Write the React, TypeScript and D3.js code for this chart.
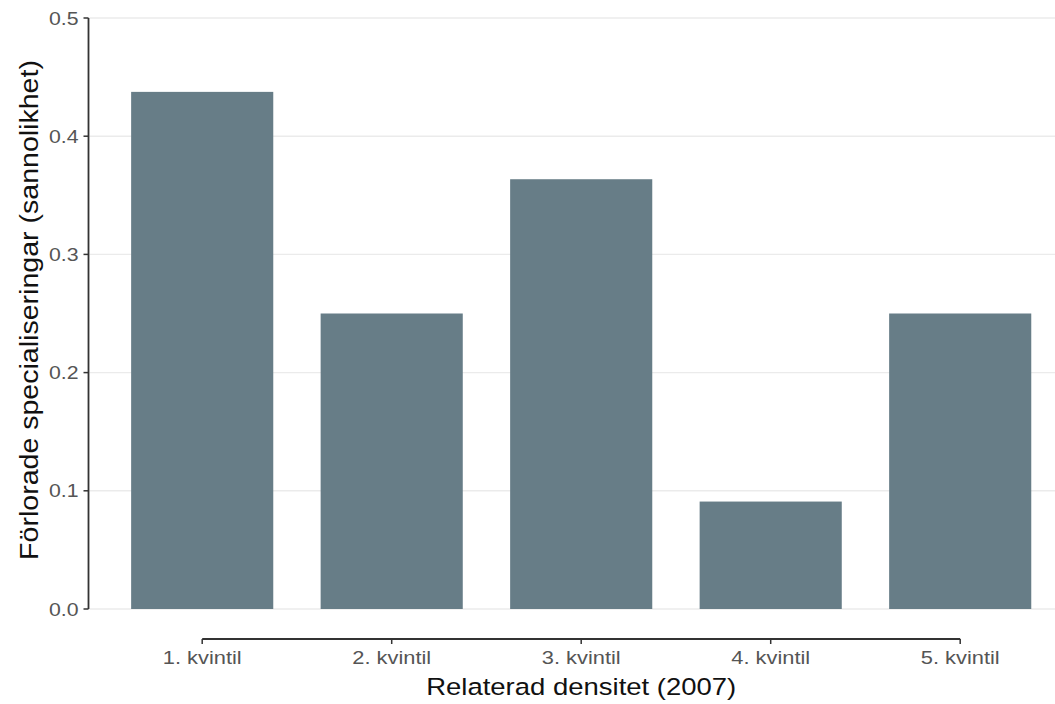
import React from "react";
import * as d3 from "d3";

const categories = ["1. kvintil", "2. kvintil", "3. kvintil", "4. kvintil", "5. kvintil"];
const values = [0.4375, 0.25, 0.3636, 0.0909, 0.25];
const yTicks = [0, 0.1, 0.2, 0.3, 0.4, 0.5];

const W = 1055;
const H = 704;
const step = 189.5;
const left = 88.5;
const top = 18;
const bottom = 609;
const SX = 1.15;
const FONT = "'Liberation Sans', Arial, Helvetica, sans-serif";

export default function App() {
  const x = d3
    .scaleBand<string>()
    .domain(categories)
    .range([left + 0.1 * step, left + 5.1 * step])
    .paddingInner(0.25)
    .paddingOuter(0.125);
  const y = d3.scaleLinear().domain([0, 0.5]).range([bottom, top]);
  const cx = (c: string) => (x(c) as number) + x.bandwidth() / 2;
  const axisY = 639;

  return (
    <svg
      width={W}
      height={H}
      style={{ position: "absolute", left: 0, top: 0, background: "#fff" }}
      fontFamily={FONT}
    >
      <rect width={W} height={H} fill="#fff" />
      {yTicks.map((t) => (
        <line key={t} x1={left + 1} x2={W} y1={y(t)} y2={y(t)} stroke="#ebebeb" strokeWidth={1.4} />
      ))}
      {categories.map((c, i) => (
        <rect
          key={c}
          x={x(c)}
          width={x.bandwidth()}
          y={y(values[i])}
          height={y(0) - y(values[i])}
          fill="#677d87"
        />
      ))}
      {/* y axis */}
      <line x1={left} x2={left} y1={y(0.5)} y2={y(0)} stroke="#333" strokeWidth={1.8} />
      {yTicks.map((t) => (
        <g key={t}>
          <line x1={left - 5} x2={left} y1={y(t)} y2={y(t)} stroke="#333" strokeWidth={1.5} />
          <text
            transform={`translate(${left - 10},${y(t)}) scale(${SX},1)`}
            dy="0.36em"
            textAnchor="end"
            fontSize={18.5}
            fill="#555"
          >
            {t.toFixed(1)}
          </text>
        </g>
      ))}
      {/* x axis */}
      <line
        x1={cx(categories[0])}
        x2={cx(categories[categories.length - 1])}
        y1={axisY}
        y2={axisY}
        stroke="#333"
        strokeWidth={1.8}
      />
      {categories.map((c) => (
        <g key={c}>
          <line x1={cx(c)} x2={cx(c)} y1={axisY} y2={axisY + 5} stroke="#333" strokeWidth={1.5} />
          <text
            transform={`translate(${cx(c)},${664}) scale(${SX},1)`}
            textAnchor="middle"
            fontSize={19}
            fill="#555"
          >
            {c}
          </text>
        </g>
      ))}
      <text
        transform={`translate(${(cx(categories[0]) + cx(categories[4])) / 2},${695}) scale(1.17,1)`}
        textAnchor="middle"
        fontSize={23.5}
        fill="#111"
      >
        Relaterad densitet (2007)
      </text>
      <text
        transform={`translate(38, ${310}) rotate(-90) scale(1.12,1)`}
        textAnchor="middle"
        fontSize={25.5}
        fill="#111"
      >
        Förlorade specialiseringar (sannolikhet)
      </text>
    </svg>
  );
}
